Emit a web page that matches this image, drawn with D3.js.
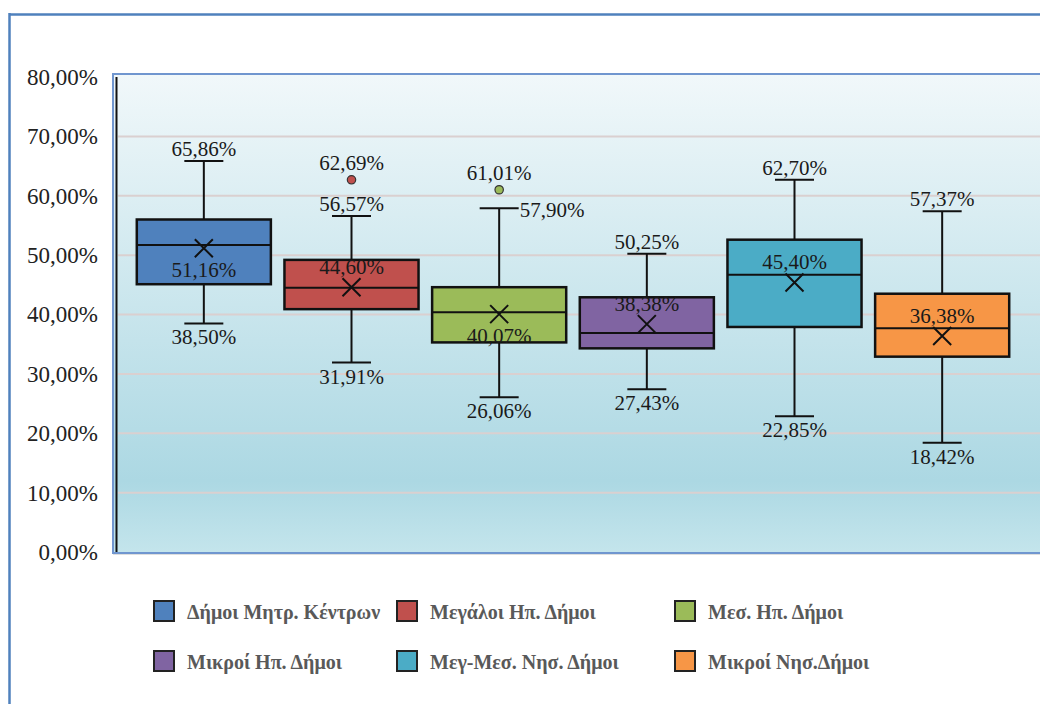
<!DOCTYPE html>
<html>
<head>
<meta charset="utf-8">
<script src="https://cdn.jsdelivr.net/npm/d3@7"></script>
<style>
  html, body { margin: 0; padding: 0; background: #fff; }
  svg { display: block; }
</style>
</head>
<body>
<svg id="chart" width="1040" height="704"></svg>
<script>
// ---- data ----
const categories = ["Δήμοι Μητρ. Κέντρων", "Μεγάλοι Ηπ. Δήμοι", "Μεσ. Ηπ. Δήμοι", "Μικροί Ηπ. Δήμοι", "Μεγ-Μεσ. Νησ. Δήμοι", "Μικροί Νησ.Δήμοι"];
const mins    = [38.50, 31.91, 26.06, 27.43, 22.85, 18.42];
const q1s     = [45.1, 40.9, 35.3, 34.3, 37.9, 32.9];
const medians = [51.7, 44.5, 40.4, 36.9, 46.7, 37.7];
const q3s     = [56.0, 49.2, 44.6, 42.9, 52.6, 43.5];
const maxs    = [65.86, 56.57, 57.90, 50.25, 62.70, 57.37];
const means   = [51.16, 44.60, 40.07, 38.38, 45.40, 36.38];
const outliers = [[], [62.69], [61.01], [], [], []];
const yTicks = [0, 10, 20, 30, 40, 50, 60, 70, 80];

// label placement (as in the original)
const meanLabelPos = ["below", "above", "below", "above", "above", "above"];
const maxLabelPos  = ["above", "above", "right", "above", "above", "above"];
const colors = ["#4f81bd", "#c0504d", "#9bbb59", "#8064a2", "#4bacc6", "#f79646"];

const fmt = v => d3.format(".2f")(v).replace(".", ",") + "%";

const svg = d3.select("#chart");
const defs = svg.append("defs");
const grad = defs.append("linearGradient").attr("id", "bg").attr("x1", 0).attr("y1", 0).attr("x2", 0).attr("y2", 1);
grad.append("stop").attr("offset", "0%").attr("stop-color", "#f1f8fa");
grad.append("stop").attr("offset", "85%").attr("stop-color", "#acd8e3");
grad.append("stop").attr("offset", "100%").attr("stop-color", "#c4e5ec");

// outer frame
svg.append("line").attr("x1", 9).attr("x2", 1040).attr("y1", 14.5).attr("y2", 14.5).attr("stroke", "#4f81bd").attr("stroke-width", 2.5);
svg.append("line").attr("x1", 9.5).attr("x2", 9.5).attr("y1", 13).attr("y2", 704).attr("stroke", "#4f81bd").attr("stroke-width", 2.5);

const plot = { left: 113, top: 74, right: 1045, bottom: 553 };
svg.append("rect").attr("x", plot.left).attr("y", plot.top + 2)
  .attr("width", plot.right - plot.left).attr("height", plot.bottom - plot.top)
  .attr("fill", "#c8c8c8").attr("opacity", 0.6);
svg.append("rect").attr("x", plot.left).attr("y", plot.top)
  .attr("width", plot.right - plot.left).attr("height", plot.bottom - plot.top)
  .attr("fill", "url(#bg)").attr("stroke", "#7096cf").attr("stroke-width", 2);

const y = d3.scaleLinear().domain([0, 80]).range([552, 77]);
const x = d3.scaleBand().domain(categories).range([130, 1016]).paddingInner(0.092).paddingOuter(0.046);

// gridlines
svg.append("g").selectAll("line").data(yTicks.filter(t => t > 0 && t < 80)).join("line")
  .attr("x1", 118).attr("x2", plot.right).attr("y1", d => y(d)).attr("y2", d => y(d))
  .attr("stroke", "#dad0d0").attr("stroke-width", 2);

// y axis
const yAxis = d3.axisLeft(y).tickValues(yTicks).tickFormat(fmt).tickSize(0).tickPadding(0);
const ga = svg.append("g").attr("transform", "translate(98,0)").call(yAxis);
ga.select(".domain").remove();
ga.selectAll("text").attr("font-family", "'Liberation Serif', serif").attr("font-size", 23).attr("fill", "#222");
svg.append("line").attr("x1", 116.5).attr("x2", 116.5).attr("y1", y(80)).attr("y2", y(0))
  .attr("stroke", "#111").attr("stroke-width", 2);

const bw = x.bandwidth();
const capW = 39;
const g = svg.append("g");
categories.forEach((c, i) => {
  const cx = x(c) + bw / 2;
  const gi = g.append("g");
  // whiskers
  gi.append("line").attr("x1", cx).attr("x2", cx).attr("y1", y(maxs[i])).attr("y2", y(q3s[i])).attr("stroke", "#111").attr("stroke-width", 2);
  gi.append("line").attr("x1", cx).attr("x2", cx).attr("y1", y(q1s[i])).attr("y2", y(mins[i])).attr("stroke", "#111").attr("stroke-width", 2);
  gi.append("line").attr("x1", cx - capW / 2).attr("x2", cx + capW / 2).attr("y1", y(maxs[i])).attr("y2", y(maxs[i])).attr("stroke", "#111").attr("stroke-width", 2);
  gi.append("line").attr("x1", cx - capW / 2).attr("x2", cx + capW / 2).attr("y1", y(mins[i])).attr("y2", y(mins[i])).attr("stroke", "#111").attr("stroke-width", 2);
  // box
  gi.append("rect").attr("x", x(c)).attr("y", y(q3s[i])).attr("width", bw).attr("height", y(q1s[i]) - y(q3s[i]))
    .attr("fill", colors[i]).attr("stroke", "#111").attr("stroke-width", 2.5);
  gi.append("line").attr("x1", x(c)).attr("x2", x(c) + bw).attr("y1", y(medians[i])).attr("y2", y(medians[i])).attr("stroke", "#111").attr("stroke-width", 2);
  // mean X
  const my = y(means[i]), s = 9;
  gi.append("path").attr("d", `M${cx - s},${my - s}L${cx + s},${my + s}M${cx - s},${my + s}L${cx + s},${my - s}`)
    .attr("stroke", "#111").attr("stroke-width", 2).attr("fill", "none");
  // outliers
  outliers[i].forEach(o => {
    gi.append("circle").attr("cx", cx).attr("cy", y(o)).attr("r", 4.2).attr("fill", colors[i]).attr("stroke", "#333").attr("stroke-width", 1.2);
    gi.append("text").attr("x", cx).attr("y", y(o) - 17).text(fmt(o)).attr("class", "lbl");
  });
  // labels
  if (maxLabelPos[i] === "right") {
    gi.append("text").attr("x", cx + capW / 2 + 1).attr("y", y(maxs[i]) + 2).attr("text-anchor", "start").text(fmt(maxs[i])).attr("class", "lbl start");
  } else {
    gi.append("text").attr("x", cx).attr("y", y(maxs[i]) - 12).text(fmt(maxs[i])).attr("class", "lbl");
  }
  gi.append("text").attr("x", cx).attr("y", y(mins[i]) + 14).text(fmt(mins[i])).attr("class", "lbl");
  gi.append("text").attr("x", cx).attr("y", my + (meanLabelPos[i] === "above" ? -20 : 22)).text(fmt(means[i])).attr("class", "lbl");
});
g.selectAll("text.lbl")
  .attr("font-family", "'Liberation Serif', serif").attr("font-size", 21).attr("fill", "#1a1a1a")
  .attr("dominant-baseline", "central")
  .each(function () { if (!this.classList.contains("start")) d3.select(this).attr("text-anchor", "middle"); });

// legend
const legX = [154, 397, 675];
const legY = [611, 661];
const leg = svg.append("g");
categories.forEach((c, i) => {
  const lx = legX[i % 3], ly = legY[Math.floor(i / 3)];
  leg.append("rect").attr("x", lx).attr("y", ly - 10).attr("width", 20).attr("height", 20)
    .attr("fill", colors[i]).attr("stroke", "#222").attr("stroke-width", 2);
  leg.append("text").attr("x", lx + 33).attr("y", ly + 1).attr("dominant-baseline", "central")
    .attr("font-family", "'Liberation Serif', serif").attr("font-weight", "bold").attr("font-size", 20)
    .attr("fill", "#595959").text(c);
});
</script>
</body>
</html>
